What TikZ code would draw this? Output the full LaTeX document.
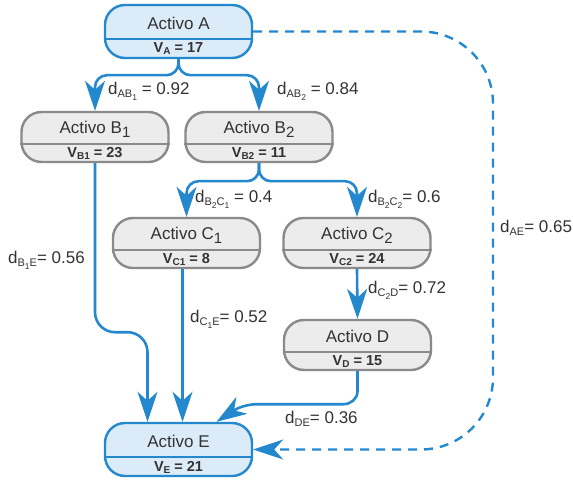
\documentclass[tikz,border=0pt]{standalone}
\usepackage{fontspec}
\setmainfont{Liberation Sans}
\usetikzlibrary{arrows.meta,calc}
\definecolor{eblue}{RGB}{36,136,206}
\definecolor{bfill}{RGB}{220,235,248}
\definecolor{gline}{RGB}{138,138,138}
\definecolor{gfill}{RGB}{236,236,236}
\definecolor{txt}{RGB}{51,51,51}

\newcommand\dsb[1]{\raisebox{-3pt}{\fontsize{11}{11}\selectfont #1}}
\newcommand\ssb[1]{\raisebox{-3pt}{\fontsize{8.5}{8.5}\selectfont #1}}
\newcommand\vsb[1]{\raisebox{-2pt}{\fontsize{10}{10}\selectfont\bfseries #1}}
\newcommand\tsb[1]{\raisebox{-4pt}{\fontsize{15}{15}\selectfont #1}}

\tikzset{
 assetbox/.style={rectangle, rounded corners=20pt, minimum width=147pt, line width=2.4pt, inner sep=0pt},
 blueassetbox/.style={assetbox, minimum height=53pt, draw=eblue, fill=bfill},
 grayassetbox/.style={assetbox, minimum height=50pt, draw=gline, fill=gfill},
 titletext/.style={font=\fontsize{17}{17}\selectfont, text=txt, inner sep=0pt, anchor=base},
 valtext/.style={font=\fontsize{14.5}{14.5}\selectfont\bfseries, text=txt, inner sep=0pt, anchor=base},
 lbl/.style={font=\fontsize{17}{17}\selectfont, text=txt, anchor=base west, inner sep=0pt},
 edge/.style={draw=eblue, line width=2.6pt, -{Stealth[length=30pt,width=20pt,inset=9pt]}},
}

% name, cx, top, title, value
\newcommand\grayasset[5]{%
 \node[grayassetbox] (#1) at (#2,#3+25) {};
 \draw[gline, line width=2.4pt] ([yshift=-7pt]#1.west) -- ([yshift=-7pt]#1.east);
 \node[titletext] (#1t) at (#2,#3+22) {#4};
 \node[valtext] (#1v) at (#2,#3+45.5) {#5};
}
\newcommand\blueasset[5]{%
 \node[blueassetbox] (#1) at (#2,#3+26.5) {};
 \draw[eblue, line width=2.4pt] ([yshift=-7.5pt]#1.west) -- ([yshift=-7.5pt]#1.east);
 \node[titletext] (#1t) at (#2,#3+24.5) {#4};
 \node[valtext] (#1v) at (#2,#3+48) {#5};
}

\begin{document}
\begin{tikzpicture}[x=1pt,y=-1pt]
\fill[white] (0,0) rectangle (573,481);
\useasboundingbox (0,0) rectangle (573,481);

\blueasset{A}{178.5}{5}{Activo A}{V\vsb{A} = 17}
\grayasset{B1}{95}{112}{Activo B\tsb{1}}{V\vsb{B1} = 23}
\grayasset{B2}{259}{112}{Activo B\tsb{2}}{V\vsb{B2} = 11}
\grayasset{C1}{186.5}{218}{Activo C\tsb{1}}{V\vsb{C1} = 8}
\grayasset{C2}{357}{218}{Activo C\tsb{2}}{V\vsb{C2} = 24}
\grayasset{D}{357.5}{320}{Activo D}{V\vsb{D} = 15}
\blueasset{E}{178.5}{423}{Activo E}{V\vsb{E} = 21}

\draw[edge, rounded corners=12pt] (A.south) -- ++(0,16) -| (B1.north);
\draw[edge, rounded corners=12pt] (A.south) -- ++(0,16) -| (B2.north);
\draw[edge, rounded corners=12pt] (B2.south) -- ++(0,18) -| (C1.north);
\draw[edge, rounded corners=12pt] (B2.south) -- ++(0,18) -| (C2.north);
\draw[edge] (C2.south) -- (D.north);
\coordinate (c1e) at ([xshift=-4pt]C1.south);
\draw[edge] (c1e) -- (c1e |- E.north);
\draw[edge, rounded corners=20pt] (B1.south) -- ++(0,169) -| ([xshift=-31pt]E.north);
\draw[edge] (D.south) -- ++(0,20) to[out=-90,in=0] ++(-14,13) -- ++(-85,0) to[out=180,in=33] ([xshift=38pt]E.north);
\coordinate (ae) at (493,0);
\draw[edge, dash pattern=on 9pt off 7pt, line width=2.4pt, rounded corners=72pt] (A.east) -- (A.east -| ae) -- (E.east -| ae) -- (E.east);

\node[lbl] (lab1) at (108,95) {d\dsb{AB\ssb{1}} = 0.92};
\node[lbl] (lab2) at (277,95) {d\dsb{AB\ssb{2}} = 0.84};
\node[lbl] (lab3) at (195,203) {d\dsb{B\ssb{2}C\ssb{1}} = 0.4};
\node[lbl] (lab4) at (368,203) {d\dsb{B\ssb{2}C\ssb{2}}= 0.6};
\node[lbl] (lab5) at (8,263) {d\dsb{B\ssb{1}E}= 0.56};
\node[lbl] (lab6) at (190,322) {d\dsb{C\ssb{1}E}= 0.52};
\node[lbl] (lab7) at (368,293) {d\dsb{C\ssb{2}D}= 0.72};
\node[lbl] (lab8) at (285,423) {d\dsb{DE}= 0.36};
\node[lbl] (lab9) at (500,233) {d\dsb{AE}= 0.65};
\end{tikzpicture}
\end{document}
